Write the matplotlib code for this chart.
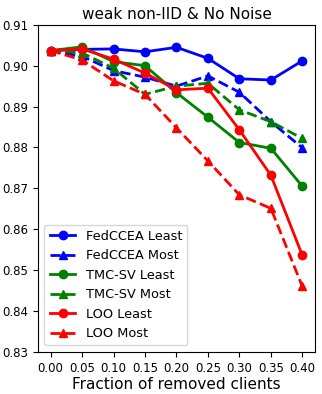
import matplotlib
matplotlib.use('Agg')
import matplotlib.pyplot as plt
import numpy as np

fractions = [0.00, 0.05, 0.10, 0.15, 0.20, 0.25, 0.30, 0.35, 0.40]

fedccea_least = [0.9037, 0.9040, 0.9041, 0.9034, 0.9045, 0.9018, 0.8968, 0.8965, 0.9012]
fedccea_most = [0.9037, 0.9023, 0.8988, 0.8972, 0.8950, 0.8975, 0.8935, 0.8863, 0.8799]
tmcsv_least = [0.9037, 0.9046, 0.9010, 0.9000, 0.8934, 0.8874, 0.8812, 0.8798, 0.8705]
tmcsv_most = [0.9037, 0.9031, 0.8994, 0.8930, 0.8950, 0.8957, 0.8892, 0.8863, 0.8822]
loo_least = [0.9037, 0.9041, 0.9016, 0.8982, 0.8941, 0.8945, 0.8843, 0.8732, 0.8536]
loo_most = [0.9037, 0.9014, 0.8963, 0.8930, 0.8848, 0.8767, 0.8684, 0.8651, 0.8460]

series = [
    ('FedCCEA Least', fedccea_least, 'blue', '-', 'o'),
    ('FedCCEA Most', fedccea_most, 'blue', '--', '^'),
    ('TMC-SV Least', tmcsv_least, 'green', '-', 'o'),
    ('TMC-SV Most', tmcsv_most, 'green', '--', '^'),
    ('LOO Least', loo_least, 'red', '-', 'o'),
    ('LOO Most', loo_most, 'red', '--', '^'),
]

fig = plt.figure(figsize=(3.22, 3.94), dpi=100)
ax = fig.add_axes([0.118, 0.107, 0.860, 0.830])
for label, vals, color, ls, marker in series:
    ax.plot(fractions, vals, color=color, linestyle=ls, marker=marker,
            linewidth=2, markersize=6, label=label)

ax.set_ylim(0.83, 0.91)
ax.set_xticks(fractions)
ax.set_xticklabels(['%.2f' % f for f in fractions])
ax.yaxis.set_major_locator(plt.MultipleLocator(0.01))
ax.yaxis.set_major_formatter(plt.FormatStrFormatter('%.2f'))
ax.tick_params(labelsize=8.5)
ax.set_title('weak non-IID & No Noise', fontsize=11, pad=4)
ax.set_xlabel('Fraction of removed clients', fontsize=11, labelpad=2)
ax.legend(loc='lower left', fontsize=9.3)

fig.savefig('out.png', dpi=100)
